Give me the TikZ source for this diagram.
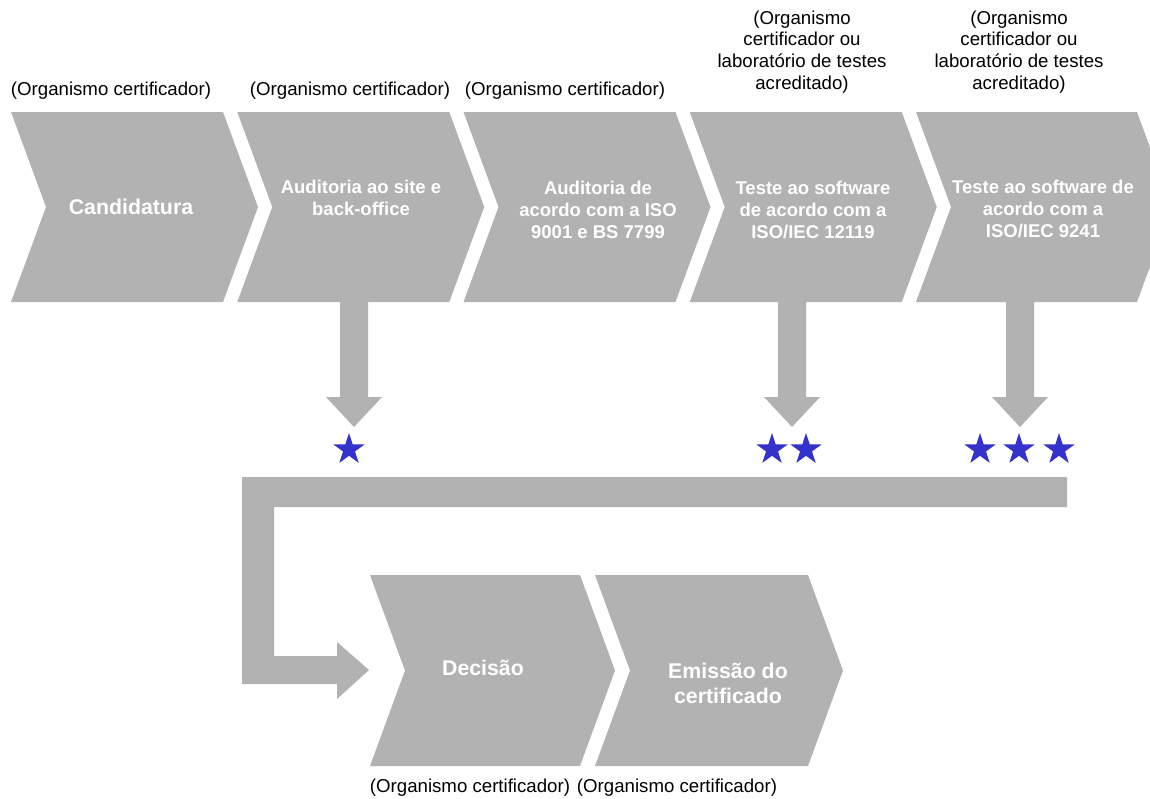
\documentclass[tikz,border=0pt]{standalone}
\usepackage{fontspec}
\setmainfont{Liberation Sans}
\usetikzlibrary{shapes.geometric}
\definecolor{chevgray}{HTML}{B2B2B2}
\definecolor{starblue}{HTML}{3333CC}
\begin{document}
\begin{tikzpicture}[x=1pt,y=-1pt,
  chev/.style={fill=chevgray,draw=none},
  steptext/.style={text=white,font=\fontsize{18.5}{22.3}\selectfont\bfseries,align=center,inner sep=0pt},
  bigtext/.style={text=white,font=\fontsize{21.3}{25}\selectfont\bfseries,align=center,inner sep=0pt},
  orglabel/.style={text=black,font=\fontsize{18.65}{21.7}\selectfont,align=center,inner sep=0pt},
  starnode/.style={star,star points=5,star point ratio=2.618,fill=starblue,draw=none,minimum size=33pt,inner sep=0pt}]
\useasboundingbox (0,0) rectangle (1150,798);
\clip (0,0) rectangle (1150,798);
% upper chevrons
\foreach \l/\w in {11/212, 237.25/212, 463.5/212, 689.75/212, 916/221}
  \fill[chev] (\l,112) -- ++(\w,0) -- ++(35,95) -- ++(-35,95) -- ++(-\w,0) -- ++(35,-95) -- cycle;
% lower chevrons
\foreach \l/\w in {370/210, 595/213}
  \fill[chev] (\l,575) -- ++(\w,0) -- ++(35,95.5) -- ++(-35,95.5) -- ++(-\w,0) -- ++(35,-95.5) -- cycle;
% down block arrows
\foreach \c in {354,792,1020}
  \fill[chev] (\c-14,302) -- (\c+14,302) -- (\c+14,397) -- (\c+28,397) -- (\c,427)
    -- (\c-28,397) -- (\c-14,397) -- cycle;
% return bracket arrow
\fill[chev] (242,477) -- (1067,477) -- (1067,507) -- (274,507) -- (274,656) -- (337,656)
  -- (337,642) -- (369,670) -- (337,699) -- (337,684) -- (242,684) -- cycle;
% stars
\node[starnode] (s1) at (349,449.5) {};
\node[starnode] (s2a) at (772,449.5) {};
\node[starnode] (s2b) at (806,449.5) {};
\node[starnode] (s3a) at (980,449.5) {};
\node[starnode] (s3b) at (1019,449.5) {};
\node[starnode] (s3c) at (1059,449.5) {};
% chevron texts
\node[bigtext] (t1) at (131,207) {Candidatura};
\node[steptext] (t2) at (361,198) {Auditoria ao site e\\back-office};
\node[steptext] (t3) at (598,210) {Auditoria de\\acordo com a ISO\\9001 e BS 7799};
\node[steptext] (t4) at (813,210) {Teste ao software\\de acordo com a\\ISO/IEC 12119};
\node[steptext] (t5) at (1043,209) {Teste ao software de\\acordo com a\\ISO/IEC 9241};
\node[bigtext] (t6) at (483,668) {Decisão};
\node[bigtext] (t7) at (728,683) {Emissão do\\certificado};
% organisation labels
\node[orglabel] (o1) at (111,91) {(Organismo certificador)};
\node[orglabel] (o2) at (350,91) {(Organismo certificador)};
\node[orglabel] (o3) at (565,91) {(Organismo certificador)};
\node[orglabel] (o4) at (802,52) {(Organismo\\certificador ou\\laboratório de testes\\acreditado)};
\node[orglabel] (o5) at (1019,52) {(Organismo\\certificador ou\\laboratório de testes\\acreditado)};
\node[orglabel] (o6) at (470,787.5) {(Organismo certificador)};
\node[orglabel] (o7) at (677,787.5) {(Organismo certificador)};
\end{tikzpicture}
\end{document}
